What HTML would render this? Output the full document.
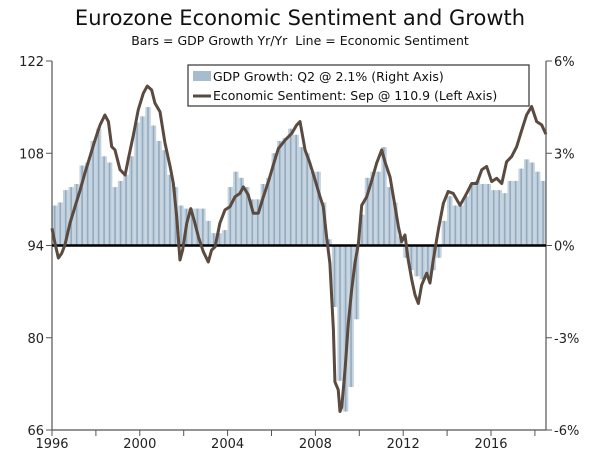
<!DOCTYPE html>
<html><head><meta charset="utf-8"><style>
body{margin:0;background:#fff;}
svg{display:block;font-family:"DejaVu Sans","Liberation Sans",sans-serif;}
</style></head><body>
<svg id="chart" width="600" height="458">
<text x="300" y="25" text-anchor="middle" font-size="21" fill="#111">Eurozone Economic Sentiment and Growth</text>
<text x="300" y="45" text-anchor="middle" font-size="12.5" fill="#111">Bars = GDP Growth Yr/Yr&#160; Line = Economic Sentiment</text>
<g id="bars"></g>
<g id="axes"></g>
<g id="line"></g>
<g>
<rect x="188" y="65" width="341" height="41" fill="#fff" stroke="#333" stroke-width="1.2"/>
<rect x="193" y="71" width="18" height="10" fill="#a7bccc"/>
<text x="213" y="81" font-size="12.5" fill="#111">GDP Growth: Q2 @ 2.1% (Right Axis)</text>
<line x1="193" y1="96" x2="211" y2="96" stroke="#5a4a3f" stroke-width="3"/>
<text x="213" y="100" font-size="12.5" fill="#111">Economic Sentiment: Sep @ 110.9 (Left Axis)</text>
</g>
</svg>
<script>
const gdpValues=[1.3,1.4,1.8,1.9,2.0,2.6,2.7,3.4,3.8,2.9,2.7,1.9,2.1,2.3,2.9,4.0,4.2,4.5,3.9,3.4,3.1,2.3,1.9,1.3,1.2,1.2,1.2,1.2,0.8,0.4,0.4,0.5,1.9,2.4,2.2,1.9,1.5,1.5,2.0,2.2,3.0,3.4,3.5,3.8,3.6,3.2,3.0,2.4,2.4,1.4,0.2,-2.0,-4.4,-5.4,-4.6,-2.4,1.0,2.2,2.4,2.4,3.2,1.9,1.4,0.3,-0.4,-0.8,-1.0,-1.1,-1.0,-0.8,-0.4,0.8,1.6,1.3,1.3,1.6,2.0,2.1,2.0,2.0,1.8,1.8,1.7,2.1,2.1,2.5,2.8,2.7,2.4,2.1];
const gdpStartYear=1996;
const lineYears=[1996.00,1996.14,1996.29,1996.44,1996.59,1996.82,1997.05,1997.28,1997.50,1997.73,1997.96,1998.19,1998.41,1998.57,1998.72,1998.87,1999.10,1999.33,1999.48,1999.71,1999.93,2000.16,2000.34,2000.54,2000.69,2000.92,2001.15,2001.38,2001.53,2001.68,2001.83,2001.95,2002.14,2002.32,2002.47,2002.67,2002.89,2003.12,2003.27,2003.43,2003.65,2003.88,2004.11,2004.34,2004.56,2004.72,2004.94,2005.17,2005.40,2005.63,2005.86,2006.08,2006.31,2006.62,2006.92,2007.15,2007.30,2007.53,2007.75,2007.98,2008.21,2008.36,2008.51,2008.66,2008.82,2008.89,2009.04,2009.12,2009.20,2009.35,2009.50,2009.65,2009.80,2009.96,2010.11,2010.34,2010.57,2010.79,2011.02,2011.17,2011.40,2011.63,2011.78,2011.93,2012.08,2012.23,2012.39,2012.54,2012.69,2012.84,2013.07,2013.22,2013.37,2013.52,2013.60,2013.83,2014.05,2014.28,2014.59,2014.89,2015.12,2015.35,2015.58,2015.80,2016.03,2016.26,2016.49,2016.71,2016.94,2017.17,2017.40,2017.62,2017.85,2018.08,2018.31,2018.50];
const lineValues=[96.6,94.3,92.1,92.8,94.1,97.4,99.9,102.4,105.0,107.5,110.0,112.3,113.8,112.8,109.0,108.5,105.5,104.7,107.2,110.8,114.6,117.1,118.2,117.6,115.6,114.3,109.5,106.0,103.4,98.4,91.8,93.3,97.4,99.6,97.9,95.3,93.1,91.5,93.3,93.8,97.4,99.4,99.9,101.4,101.9,102.9,101.7,98.9,98.9,101.4,103.7,106.2,108.7,110.0,111.0,112.3,112.8,108.5,106.5,104.0,101.4,99.9,95.3,91.3,81.2,73.3,72.1,68.8,69.5,75.1,82.2,87.2,91.3,94.3,100.1,101.4,103.9,106.5,108.5,106.7,104.4,99.9,96.9,94.6,95.6,91.8,88.8,86.5,85.2,88.0,89.8,88.3,91.8,94.8,96.4,100.4,102.2,101.9,100.1,101.9,103.4,103.4,105.5,106.0,103.7,104.2,103.4,106.7,107.5,109.0,111.5,113.8,115.1,112.8,112.3,110.9];
const leftTicks=[122,108,94,80,66];
const rightTicks=["6%","3%","0%","-3%","-6%"];
const rightTickValues=[6,3,0,-3,-6];
const xTickLabels=[1996,2000,2004,2008,2012,2016];

const NS="http://www.w3.org/2000/svg";
const X0=52,X1=546,Y0=61,Y1=430;
const x=t=>X0+(t-1996)*21.95;
const yL=v=>Y0+(122-v)*(Y1-Y0)/56;
const yR=p=>yL(94+p*14/3);
function mk(tag,attrs,parent){const e=document.createElementNS(NS,tag);for(const k in attrs)e.setAttribute(k,attrs[k]);parent.appendChild(e);return e;}
const bars=document.getElementById('bars'),axes=document.getElementById('axes'),lineG=document.getElementById('line');
const qw=21.95/4;
gdpValues.forEach((v,i)=>{
  const t=gdpStartYear+i/4, xa=x(t), y0=yR(0), yv=yR(v);
  const r=mk('rect',{x:xa.toFixed(2),y:Math.min(y0,yv).toFixed(2),width:(qw).toFixed(2),height:Math.abs(yv-y0).toFixed(2),fill:'#c4d3df'},bars);
  
  
  const s=mk('rect',{x:(xa+qw*0.35).toFixed(2),y:Math.min(y0,yv).toFixed(2),width:'1.6',height:Math.abs(yv-y0).toFixed(2),fill:'#93abbf'},bars);
  
  
});
let a=mk('line',{x1:X0,y1:Y0,x2:X0,y2:Y1,stroke:'#555','stroke-width':1.2},axes);

a=mk('line',{x1:X1,y1:Y0,x2:X1,y2:Y1,stroke:'#555','stroke-width':1.2},axes);

a=mk('line',{x1:X0,y1:Y1,x2:X1,y2:Y1,stroke:'#555','stroke-width':1.2},axes);

leftTicks.forEach(v=>{
  const yy=yL(v);
  const tk=mk('line',{x1:X0-6,y1:yy,x2:X0,y2:yy,stroke:'#555'},axes);
  
  const tx=mk('text',{x:X0-8,y:yy+5,'text-anchor':'end','font-size':13,fill:'#222'},axes);tx.textContent=v;
  
});
rightTicks.forEach((lab,i)=>{
  const yy=yR(rightTickValues[i]);
  const tk=mk('line',{x1:X1,y1:yy,x2:X1+6,y2:yy,stroke:'#555'},axes);
  
  const tx=mk('text',{x:X1+8,y:yy+5,'font-size':13,fill:'#222'},axes);tx.textContent=lab;
  
});
for(let yr=1996;yr<=2018;yr+=2){
  const tk=mk('line',{x1:x(yr),y1:Y1,x2:x(yr),y2:Y1+6,stroke:'#555'},axes);
  
}
xTickLabels.forEach(yr=>{
  const tx=mk('text',{x:x(yr),y:Y1+18,'text-anchor':'middle','font-size':13,fill:'#222'},axes);tx.textContent=yr;
  
});
a=mk('line',{x1:X0,y1:yL(94),x2:X1,y2:yL(94),stroke:'#000','stroke-width':2.5},axes);

const d=lineYears.map((t,i)=>(i?'L':'M')+x(t).toFixed(2)+','+yL(lineValues[i]).toFixed(2)).join('');
const p=mk('path',{d:d,fill:'none',stroke:'#5a4a3f','stroke-width':3,'stroke-linejoin':'round'},lineG);


</script>
</body></html>
